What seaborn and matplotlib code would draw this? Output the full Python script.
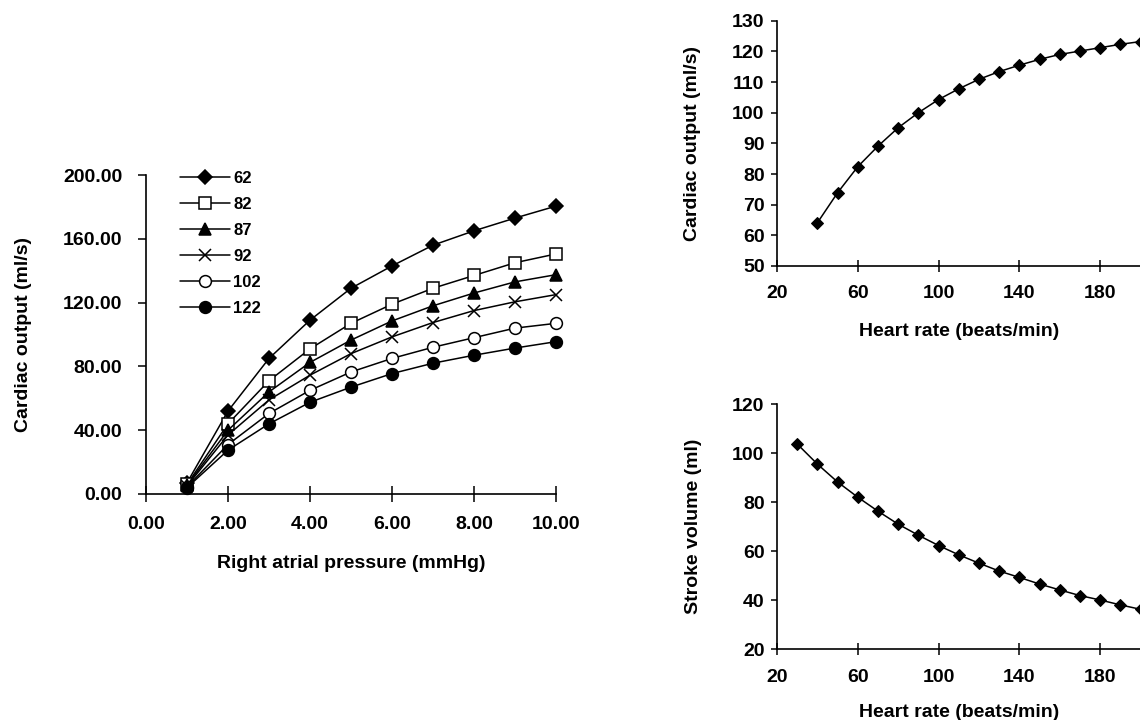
import matplotlib
matplotlib.use("Agg")
import matplotlib.pyplot as plt
import seaborn as sns
import numpy as np
import pandas as pd
from matplotlib.lines import Line2D

# ---------------- data ----------------
rap = [1, 2, 3, 4, 5, 6, 7, 8, 9, 10]
hr_series = ["62", "82", "87", "92", "102", "122"]
co_62 = [7.0, 52, 85, 109, 129, 143, 156, 165, 173, 180.5]
co_82 = [6.0, 44, 71, 91, 107, 119, 129, 137, 145, 150.5]
co_87 = [5.5, 40, 64, 82.5, 96.5, 108.5, 118, 126, 133, 137.5]
co_92 = [5.0, 37, 59, 74.5, 88, 98.5, 107.5, 115, 120.5, 125]
co_102 = [4.5, 31, 50.5, 65, 76.5, 85, 92, 98, 104, 107]
co_122 = [4.0, 27.5, 44, 57.5, 67, 75.5, 82, 87, 91.5, 95.5]

hr_co = [40, 50, 60, 70, 80, 90, 100, 110, 120, 130, 140, 150, 160, 170, 180, 190, 200]
co_vs_hr = [64.1, 73.9, 82.4, 89.1, 95.1, 100, 104.3, 107.8, 110.9, 113.4,
            115.5, 117.4, 119, 120.1, 121.2, 122.3, 123.2]

hr_sv = [30, 40, 50, 60, 70, 80, 90, 100, 110, 120, 130, 140, 150, 160, 170, 180, 190, 200]
sv_vs_hr = [103.7, 95.5, 88.2, 82, 76.3, 71, 66.5, 62.3, 58.5, 55.1, 51.9,
            49.3, 46.6, 44.2, 41.9, 40.1, 38.1, 36.3]

left_xticks = [0, 2, 4, 6, 8, 10]
left_yticks = [0, 40, 80, 120, 160, 200]
hr_xticks = [20, 60, 100, 140, 180]
co_yticks = [50, 60, 70, 80, 90, 100, 110, 120, 130]
sv_yticks = [20, 40, 60, 80, 100, 120]

# ---------------- style ----------------
sns.set_theme(style="ticks")
plt.rcParams["font.family"] = ["Liberation Sans", "DejaVu Sans"]
plt.rcParams["font.weight"] = "bold"
plt.rcParams["axes.labelweight"] = "bold"
plt.rcParams["text.color"] = "black"
plt.rcParams["axes.labelcolor"] = "black"
plt.rcParams["xtick.color"] = "black"
plt.rcParams["ytick.color"] = "black"

W, H = 1140, 720
fig = plt.figure(figsize=(W / 100, H / 100), dpi=100)
fig.patch.set_facecolor("white")


def px_axes(l, r, t, b):
    return fig.add_axes([l / W, 1 - b / H, (r - l) / W, (b - t) / H])


def style_axes(ax, ylen, ypad, xlen, xpad):
    for s in ["top", "right"]:
        ax.spines[s].set_visible(False)
    for s in ["left", "bottom"]:
        ax.spines[s].set_color("black")
        ax.spines[s].set_linewidth(1.2)
    ax.set_facecolor("white")
    ax.tick_params(axis="y", direction="out", length=ylen, width=1.1, pad=ypad,
                   labelsize=14, colors="black")
    ax.tick_params(axis="x", direction="inout", length=xlen, width=1.1, pad=xpad,
                   labelsize=14, colors="black")
    for lab in ax.get_xticklabels() + ax.get_yticklabels():
        lab.set_fontweight("bold")


# ---------------- left panel ----------------
ax1 = px_axes(146, 556, 175, 494)
series = [co_62, co_82, co_87, co_92, co_102, co_122]
markers = ["D", "s", "^", "x", "o", "o"]
msizes = [7, 8.5, 9, 8, 8.5, 8.5]
faces = ["black", "white", "black", "black", "white", "black"]
handles = []
for name, ys, m, ms, fc in zip(hr_series, series, markers, msizes, faces):
    sns.lineplot(x=rap, y=ys, ax=ax1, color="black", linewidth=1.1,
                 marker=m, markersize=ms, markerfacecolor=fc,
                 markeredgecolor="black", markeredgewidth=1.1, clip_on=False)
    handles.append(Line2D([], [], color="black", linewidth=1.1, marker=m,
                          markersize=ms, markerfacecolor=fc,
                          markeredgecolor="black", markeredgewidth=1.1, label=name))
ax1.set_xlim(0, 10)
ax1.set_ylim(0, 200)
ax1.set_xticks(left_xticks)
ax1.set_xticklabels([f"{v:.2f}" for v in left_xticks])
ax1.set_yticks(left_yticks)
ax1.set_yticklabels([f"{v:.2f}" for v in left_yticks])
style_axes(ax1, 6, 11, 11, 10)
ax1.set_xlabel("Right atrial pressure (mmHg)", fontsize=14, fontweight="bold",
               labelpad=16, color="black")
ax1.set_ylabel("Cardiac output (ml/s)", fontsize=14, fontweight="bold",
               labelpad=22, color="black")
leg = ax1.legend(handles=handles, loc="upper left",
                 bbox_to_anchor=(180 / W, 1 - 171 / H), bbox_transform=fig.transFigure,
                 frameon=False, fontsize=12, handlelength=3.0, handletextpad=0.2,
                 labelspacing=0.66, borderpad=0, borderaxespad=0)
for t in leg.get_texts():
    t.set_fontweight("bold")
    t.set_color("black")

# ---------------- top right ----------------
ax2 = px_axes(777, 777 + 180 * 2.02, 20.7, 266)
sns.lineplot(x=hr_co, y=co_vs_hr, ax=ax2, color="black", linewidth=1.1,
             marker="D", markersize=6.2, markerfacecolor="black",
             markeredgecolor="black", clip_on=False)
ax2.set_xlim(20, 200)
ax2.set_ylim(50, 130)
ax2.set_xticks(hr_xticks)
ax2.set_yticks(co_yticks)
style_axes(ax2, 4, 5, 8, 10)
ax2.set_xlabel("Heart rate (beats/min)", fontsize=14, fontweight="bold",
               labelpad=15, color="black")
ax2.set_ylabel("Cardiac output (ml/s)", fontsize=14, fontweight="bold",
               labelpad=22, color="black")

# ---------------- bottom right ----------------
ax3 = px_axes(777, 777 + 180 * 2.02, 404, 649.3)
sns.lineplot(x=hr_sv, y=sv_vs_hr, ax=ax3, color="black", linewidth=1.1,
             marker="D", markersize=6.2, markerfacecolor="black",
             markeredgecolor="black", clip_on=False)
ax3.set_xlim(20, 200)
ax3.set_ylim(20, 120)
ax3.set_xticks(hr_xticks)
ax3.set_yticks(sv_yticks)
style_axes(ax3, 4, 5, 8, 10)
ax3.set_xlabel("Heart rate (beats/min)", fontsize=14, fontweight="bold",
               labelpad=13, color="black")
ax3.set_ylabel("Stroke volume (ml)", fontsize=14, fontweight="bold",
               labelpad=22, color="black")

for ax in (ax2, ax3):
    leg_ = ax.get_legend()
    if leg_ is not None:
        leg_.remove()

fig.savefig("out.png", dpi=100, facecolor="white")
